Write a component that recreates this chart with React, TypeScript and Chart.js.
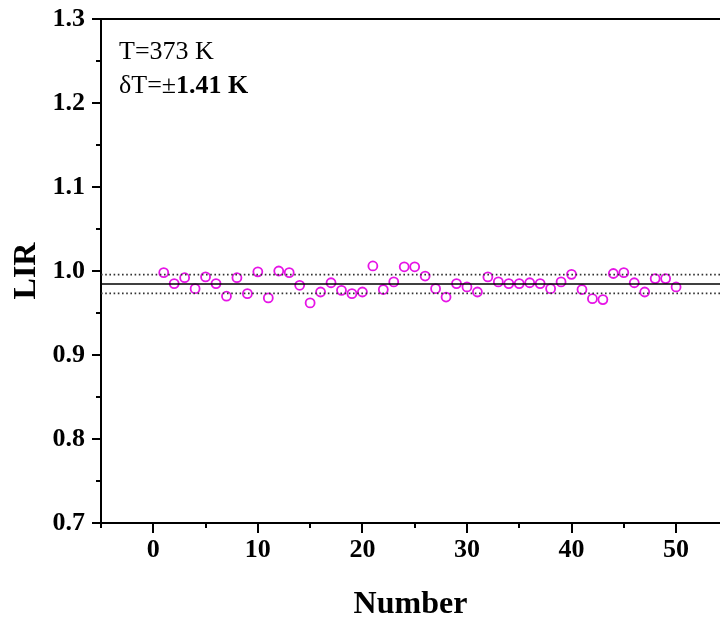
import React, { useEffect, useRef } from 'react';
import { Chart, registerables } from 'chart.js';

Chart.register(...registerables);

const SAMPLE_NUMBERS = [
  1, 2, 3, 4, 5, 6, 7, 8, 9, 10,
  11, 12, 13, 14, 15, 16, 17, 18, 19, 20,
  21, 22, 23, 24, 25, 26, 27, 28, 29, 30,
  31, 32, 33, 34, 35, 36, 37, 38, 39, 40,
  41, 42, 43, 44, 45, 46, 47, 48, 49, 50,
];

const LIR_VALUES = [
  0.998, 0.985, 0.992, 0.979, 0.993, 0.985, 0.970, 0.992, 0.973, 0.999,
  0.968, 1.000, 0.998, 0.983, 0.962, 0.975, 0.986, 0.977, 0.973, 0.975,
  1.006, 0.978, 0.987, 1.005, 1.005, 0.994, 0.979, 0.969, 0.985, 0.981,
  0.975, 0.993, 0.987, 0.985, 0.985, 0.986, 0.985, 0.979, 0.987, 0.996,
  0.978, 0.967, 0.966, 0.997, 0.998, 0.986, 0.975, 0.991, 0.991, 0.981,
];

const MEAN_LIR = 0.9845;
const UPPER_LIR = 0.9957;
const LOWER_LIR = 0.9733;

const X_MIN = -5;
const X_MAX = 54.2;
const Y_MIN = 0.7;
const Y_MAX = 1.3;

const X_MAJOR_TICKS = [0, 10, 20, 30, 40, 50];
const X_MINOR_TICKS = [-5, 5, 15, 25, 35, 45];
const Y_MAJOR_TICKS = [0.7, 0.8, 0.9, 1.0, 1.1, 1.2, 1.3];
const Y_MINOR_TICKS = [0.75, 0.85, 0.95, 1.05, 1.15, 1.25];

const ANNOTATION_LINE1 = 'T=373 K';
const ANNOTATION_LINE2_A = 'δT=±';
const ANNOTATION_LINE2_B = '1.41 K';

const FONT = '"Liberation Serif", "Times New Roman", serif';
const MAGENTA = '#e614e6';

const decorPlugin = {
  id: 'decor',
  afterDraw(chart: any) {
    const ctx = chart.ctx;
    const area = chart.chartArea;
    const xs = chart.scales.x;
    const ys = chart.scales.y;
    ctx.save();
    ctx.strokeStyle = '#000';
    ctx.lineWidth = 2;
    // top frame line
    ctx.beginPath();
    ctx.moveTo(area.left - 1, area.top);
    ctx.lineTo(area.right, area.top);
    ctx.stroke();
    const drawX = (vals: number[], len: number) => {
      vals.forEach((v) => {
        const px = Math.round(xs.getPixelForValue(v));
        ctx.beginPath();
        ctx.moveTo(px, area.bottom);
        ctx.lineTo(px, area.bottom + len);
        ctx.stroke();
      });
    };
    drawX(X_MAJOR_TICKS, 10);
    drawX(X_MINOR_TICKS, 5);
    const drawY = (vals: number[], len: number) => {
      vals.forEach((v) => {
        const py = Math.round(ys.getPixelForValue(v));
        ctx.beginPath();
        ctx.moveTo(area.left, py);
        ctx.lineTo(area.left - len, py);
        ctx.stroke();
      });
    };
    drawY(Y_MAJOR_TICKS, 9);
    drawY(Y_MINOR_TICKS, 5);
    // annotation text
    ctx.fillStyle = '#000';
    ctx.textBaseline = 'alphabetic';
    ctx.textAlign = 'left';
    const tx = area.left + 18;
    ctx.font = `26px ${FONT}`;
    ctx.fillText(ANNOTATION_LINE1, tx, area.top + 40);
    ctx.fillText(ANNOTATION_LINE2_A, tx, area.top + 74);
    const w = ctx.measureText(ANNOTATION_LINE2_A).width;
    ctx.font = `bold 26px ${FONT}`;
    ctx.fillText(ANNOTATION_LINE2_B, tx + w, area.top + 74);
    ctx.restore();
  },
};

export default function App() {
  const ref = useRef<HTMLCanvasElement | null>(null);

  useEffect(() => {
    document.body.style.margin = '0';
    const canvas = ref.current;
    if (!canvas) return;
    const points = SAMPLE_NUMBERS.map((n, i) => ({ x: n, y: LIR_VALUES[i] }));
    const hline = (v: number) => [
      { x: X_MIN, y: v },
      { x: X_MAX, y: v },
    ];
    const chart = new Chart(canvas, {
      type: 'scatter',
      data: {
        datasets: [
          {
            type: 'line',
            label: 'mean',
            data: hline(MEAN_LIR),
            borderColor: '#000',
            borderWidth: 1.6,
            pointRadius: 0,
            fill: false,
          } as any,
          {
            type: 'line',
            label: 'upper',
            data: hline(UPPER_LIR),
            borderColor: '#333',
            borderWidth: 1.8,
            borderDash: [1.6, 2.6],
            pointRadius: 0,
            fill: false,
          } as any,
          {
            type: 'line',
            label: 'lower',
            data: hline(LOWER_LIR),
            borderColor: '#333',
            borderWidth: 1.8,
            borderDash: [1.6, 2.6],
            pointRadius: 0,
            fill: false,
          } as any,
          {
            label: 'LIR',
            data: points,
            pointStyle: 'circle',
            pointRadius: 4.5,
            pointBorderWidth: 1.8,
            borderColor: MAGENTA,
            backgroundColor: 'rgba(0,0,0,0)',
            pointBackgroundColor: 'rgba(0,0,0,0)',
            pointBorderColor: MAGENTA,
          } as any,
        ],
      },
      options: {
        animation: false,
        responsive: false,
        devicePixelRatio: 1,
        layout: { autoPadding: false, padding: { left: 0, right: 0, top: 19, bottom: 0 } },
        plugins: {
          legend: { display: false },
          tooltip: { enabled: false },
        },
        scales: {
          x: {
            type: 'linear',
            min: X_MIN,
            max: X_MAX,
            afterFit: (s: any) => {
              s.height = 100;
              s.paddingLeft = 0;
              s.paddingRight = 0;
            },
            grid: { display: false, drawTicks: false },
            border: { display: true, color: '#000', width: 2 },
            ticks: {
              stepSize: 10,
              includeBounds: false,
              autoSkip: false,
              maxRotation: 0,
              padding: 12,
              color: '#000',
              font: { family: FONT, size: 26, weight: 'bold' },
              callback: (v: any) => String(v),
            },
            title: {
              display: true,
              text: 'Number',
              color: '#000',
              font: { family: FONT, size: 32, weight: 'bold', lineHeight: 1 },
              padding: { top: 0, bottom: 2 },
            },
          },
          y: {
            type: 'linear',
            min: Y_MIN,
            max: Y_MAX,
            afterFit: (s: any) => {
              s.width = 101;
              s.paddingTop = 0;
              s.paddingBottom = 0;
            },
            grid: { display: false, drawTicks: false },
            border: { display: true, color: '#000', width: 2 },
            ticks: {
              stepSize: 0.1,
              autoSkip: false,
              padding: 16,
              color: '#000',
              font: { family: FONT, size: 26, weight: 'bold' },
              callback: (v: any) => Number(v).toFixed(1),
            },
            title: {
              display: true,
              text: 'LIR',
              color: '#000',
              font: { family: FONT, size: 32, weight: 'bold', lineHeight: 1 },
              padding: { top: 11, bottom: 0 },
            },
          },
        },
      },
      plugins: [decorPlugin],
    });
    return () => chart.destroy();
  }, []);

  return (
    <div style={{ width: 720, height: 623 }}>
      <canvas ref={ref} width={720} height={623} style={{ display: 'block' }} />
    </div>
  );
}
